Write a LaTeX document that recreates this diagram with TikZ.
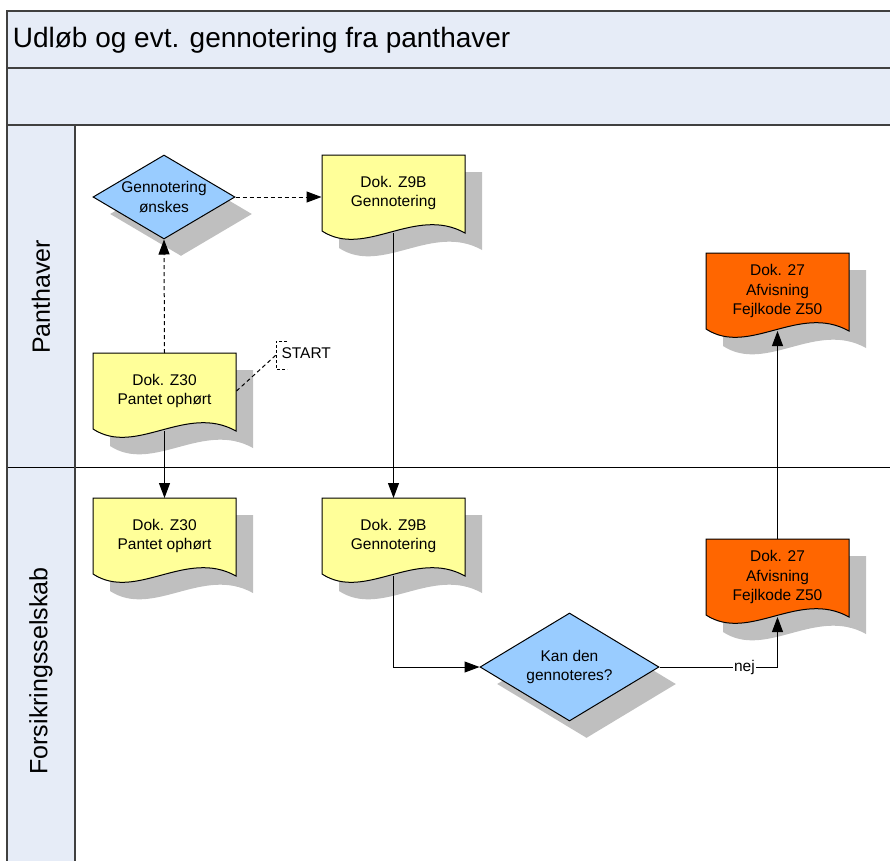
\documentclass[tikz,border=0pt]{standalone}
\usepackage{fontspec}
\setmainfont{Liberation Sans}
\usetikzlibrary{arrows.meta, shapes.geometric, shadows}

\definecolor{laneblue}{RGB}{230,236,247}
\definecolor{framegray}{RGB}{64,64,64}
\definecolor{docyellow}{RGB}{255,255,153}
\definecolor{decblue}{RGB}{153,204,255}
\definecolor{errorange}{RGB}{255,102,0}
\definecolor{shadowgray}{RGB}{191,191,191}

\tikzset{
  boxshadow/.style={drop shadow={shadow xshift=17pt, shadow yshift=-17pt, fill=shadowgray, opacity=1, draw=none}},
  doc/.style={anchor=north, align=center, minimum width=143pt, minimum height=75pt, inner sep=0pt},
  decision/.style={diamond, draw, fill=decblue, inner sep=0pt, boxshadow},
  flow/.style={-{Triangle[length=15pt, width=11pt]}},
  dashflow/.style={flow, dash pattern=on 4pt off 3pt}
}

\begin{document}
\begin{tikzpicture}[x=1pt, y=-1pt, line width=1pt, font=\fontsize{15.5pt}{19.5pt}\selectfont]
\useasboundingbox (0,0) rectangle (890,860);
% swimlanes
\fill[laneblue] (7,11) rectangle (892,125);
\fill[laneblue] (7,125) rectangle (75,862);
\draw (7,467) -- (892,467);
\draw[framegray, line width=2pt] (892,11) -- (7,11) -- (7,862);
\foreach \y in {68,125}
	\draw[framegray, line width=2pt] (7,\y) -- (892,\y);
\draw[framegray, line width=2pt] (75,125) -- (75,862);
\node[anchor=west, font=\fontsize{28pt}{32pt}\selectfont] (title) at (9,40) {Udløb og evt. gennotering fra panthaver};
\node[rotate=90, font=\fontsize{25pt}{30pt}\selectfont] (panthaver) at (41,297) {Panthaver};
\node[rotate=90, font=\fontsize{25pt}{30pt}\selectfont] (forsikring) at (41,671) {Forsikringsselskab};

% documents
\foreach \nm/\x/\y/\col/\txt in {
	z30a/93/353/docyellow/{Dok. Z30\\Pantet ophørt},
	z9ba/322/155/docyellow/{Dok. Z9B\\Gennotering},
	afva/706/253/errorange/{Dok. 27\\Afvisning\\Fejlkode Z50},
	z30b/93/498/docyellow/{Dok. Z30\\Pantet ophørt},
	z9bb/322/498/docyellow/{Dok. Z9B\\Gennotering},
	afvb/706/539/errorange/{Dok. 27\\Afvisning\\Fejlkode Z50}}
{
	\draw[fill=\col, boxshadow] (\x,\y) -- ++(143,0) -- ++(0,78)
		.. controls (\x+93,\y+50) and (\x+43,\y+104) .. (\x,\y+76) -- cycle;
	\node[doc] (\nm) at (\x+71.5,\y) {\txt};
}

% decisions
\node[decision, minimum width=142pt, minimum height=84pt] (gen) at (164,197) {};
\node[align=center] (gentext) at (gen) {Gennotering\\ønskes};
\node[decision, minimum width=179pt, minimum height=108pt] (kan) at (569.5,667) {};
\node[align=center] (kantext) at (kan) {Kan den\\gennoteres?};

% start note
\node[anchor=west, inner sep=0pt] (start) at (281,353) {START};
\draw[dash pattern=on 3pt off 2pt] (287,341) -- (276,341) -- (276,369) -- (287,369);
\coordinate (startbr) at (276,355);
\draw[dash pattern=on 4pt off 3pt] (z30a.east) -- (startbr);

% connectors
\draw[dashflow] (z30a.north) -- (gen.south);
\draw[dashflow] (gen.east) -- (gen.east -| z9ba.west);
\draw[flow] ([yshift=-2pt]z9ba.south) -- (z9bb.north);
\draw[flow] ([yshift=-2pt]z30a.south) -- (z30b.north);
\draw[flow] ([yshift=-2pt]z9bb.south) |- (kan.west);
\draw[flow] (kan.east) -| node[pos=0.36, fill=white, inner sep=1pt] (nej) {nej} ([yshift=-2pt]afvb.south);
\draw[flow] (afvb.north) -- ([yshift=-2pt]afva.south);
\end{tikzpicture}
\end{document}
